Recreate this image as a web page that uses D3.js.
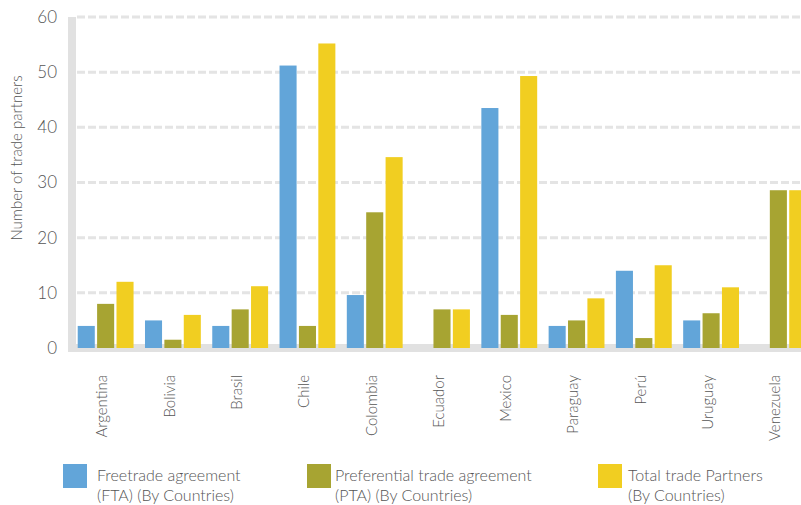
<!DOCTYPE html>
<html>
<head>
<meta charset="utf-8">
<script src="https://cdn.jsdelivr.net/npm/d3@7"></script>
<style>
  html, body { margin: 0; padding: 0; background: #fff; }
  svg { display: block; font-family: "Lato", "Open Sans", sans-serif; font-weight: 300; }
</style>
</head>
<body>
<svg id="chart" width="801" height="505"></svg>
<script>
// Trade partners per country by agreement type
const countries = ["Argentina", "Bolivia", "Brasil", "Chile", "Colombia", "Ecuador",
                   "Mexico", "Paraguay", "Perú", "Uruguay", "Venezuela"];
const fta   = [4, 5, 4, 51.2, 9.6, 0, 43.5, 4, 14, 5, 0];
const pta   = [8, 1.5, 7, 4, 24.6, 7, 6, 5, 1.8, 6.3, 28.6];
const total = [12, 6, 11.2, 55.2, 34.6, 7, 49.3, 9, 15, 11, 28.6];
const seriesKeys = ["fta", "pta", "total"];
const seriesLabels = [
  ["Freetrade agreement", "(FTA) (By Countries)"],
  ["Preferential trade agreement", "(PTA) (By Countries)"],
  ["Total trade Partners", "(By Countries)"]
];
const seriesColors = ["#62a5d9", "#a7a432", "#f1ce21"];
const yTicks = [0, 10, 20, 30, 40, 50, 60];
const yTitle = "Number of trade partners";

const rows = countries.map((c, i) => ({ country: c, fta: fta[i], pta: pta[i], total: total[i] }));

const svg = d3.select("#chart");
const axisGray = "#e1e1e1";
const textColor = "#555";

const y = d3.scaleLinear().domain([0, 60]).range([348, 17]);
const x0 = d3.scaleBand().domain(countries).range([72, 812])
  .paddingInner(0.17).paddingOuter(0.085);
const x1 = d3.scaleBand().domain(seriesKeys).range([0, x0.bandwidth()]).paddingInner(0.12);
const color = d3.scaleOrdinal().domain(seriesKeys).range(seriesColors);

// dashed gridlines
svg.append("g").selectAll("line")
  .data(yTicks.filter(d => d > 0))
  .join("line")
  .attr("x1", 77).attr("x2", 801)
  .attr("y1", d => y(d)).attr("y2", d => y(d))
  .attr("stroke", "#e4e4e4").attr("stroke-width", 3)
  .attr("stroke-dasharray", "8,3");

// axis frame: left bar and floor band
svg.append("rect").attr("x", 68).attr("y", y(60)).attr("width", 8)
  .attr("height", 352 - y(60)).attr("fill", axisGray);
svg.append("rect").attr("x", 68).attr("y", 344).attr("width", 801 - 68)
  .attr("height", 8).attr("fill", axisGray);

// bars
svg.append("g").selectAll("g")
  .data(rows)
  .join("g")
  .attr("transform", d => `translate(${x0(d.country)},0)`)
  .selectAll("rect")
  .data(d => seriesKeys.map(k => ({ key: k, value: d[k] })).filter(e => e.value > 0))
  .join("rect")
  .attr("x", d => x1(d.key))
  .attr("y", d => y(d.value))
  .attr("width", x1.bandwidth())
  .attr("height", d => y(0) - y(d.value))
  .attr("fill", d => color(d.key));

// y axis tick labels
const yAxis = d3.axisLeft(y).tickValues(yTicks).tickSize(0).tickPadding(0);
const gy = svg.append("g").attr("transform", "translate(57,0)").call(yAxis);
gy.select(".domain").remove();
gy.selectAll("text").attr("fill", textColor).attr("font-size", 17)
  .attr("font-family", "Lato, sans-serif").attr("font-weight", 300);

// y axis title
svg.append("text")
  .attr("transform", "translate(22,158) rotate(-90)")
  .attr("text-anchor", "middle")
  .attr("fill", textColor).attr("font-size", 15)
  .text(yTitle);

// x axis category labels (rotated)
const xAxis = d3.axisBottom(x0).tickSize(0).tickPadding(0);
const gx = svg.append("g").attr("transform", "translate(0,375)").call(xAxis);
gx.select(".domain").remove();
gx.selectAll("text")
  .attr("fill", textColor).attr("font-size", 15)
  .attr("font-family", "Lato, sans-serif").attr("font-weight", 300)
  .attr("text-anchor", "end")
  .attr("dy", "0.32em")
  .attr("transform", "translate(-3,0) rotate(-90)");

// legend
const legendX = [63, 307, 598];
const legendTextX = [34, 28, 30];
const legend = svg.append("g").selectAll("g")
  .data(seriesKeys)
  .join("g")
  .attr("transform", (d, i) => `translate(${legendX[i]},464)`);
legend.append("rect").attr("width", 24).attr("height", 24)
  .attr("fill", d => color(d));
legend.each(function(d, i) {
  const t = d3.select(this).append("text")
    .attr("fill", textColor).attr("font-size", 16);
  seriesLabels[i].forEach((line, j) => {
    t.append("tspan").attr("x", legendTextX[i]).attr("y", 17 + j * 20).text(line);
  });
});
</script>
</body>
</html>
